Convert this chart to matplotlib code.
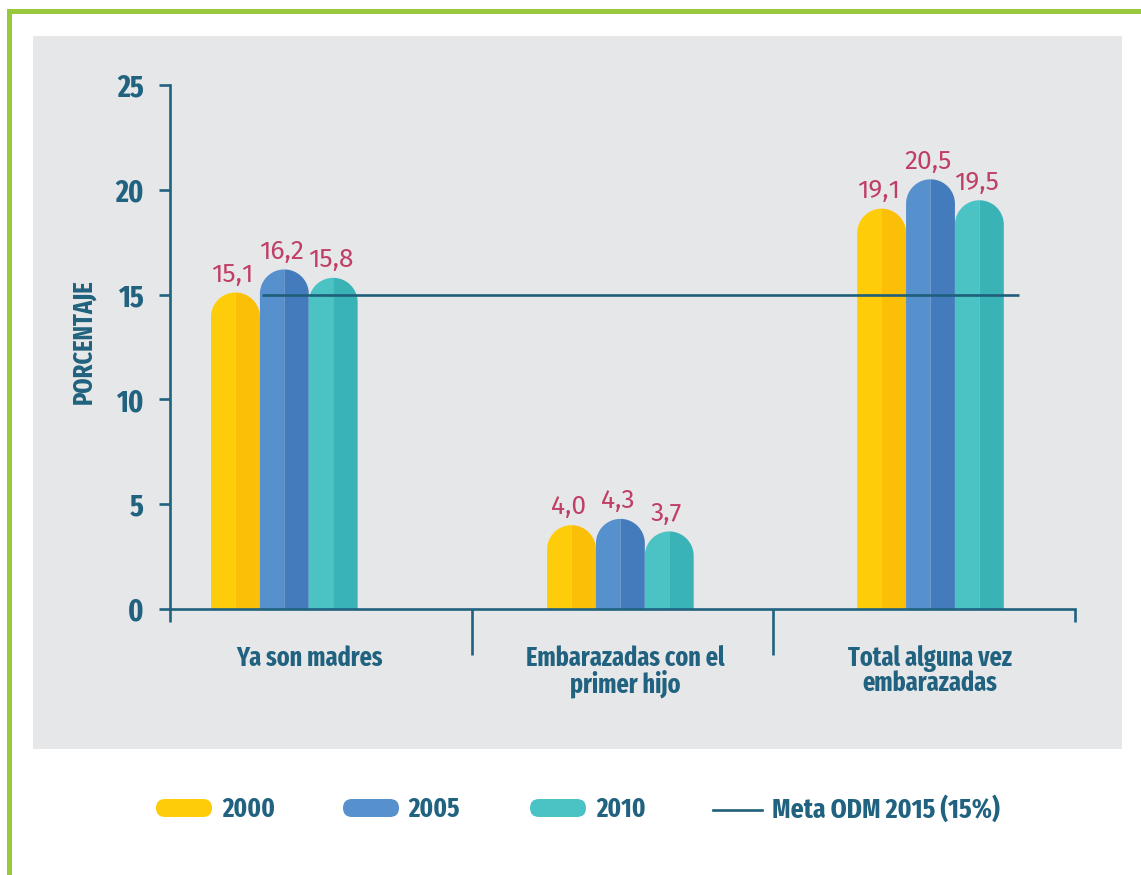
import numpy as np
import matplotlib
matplotlib.use("Agg")
import matplotlib.pyplot as plt
from matplotlib.patches import Polygon, Rectangle, FancyBboxPatch
from matplotlib.lines import Line2D
from matplotlib.transforms import IdentityTransform

# ---------------- data ----------------
categories = ["Ya son madres", "Embarazadas con el\nprimer hijo", "Total alguna vez\nembarazadas"]
years = ["2000", "2005", "2010"]
values_2000 = [15.1, 4.0, 19.1]
values_2005 = [16.2, 4.3, 20.5]
values_2010 = [15.8, 3.7, 19.5]
meta_value = 15
meta_label = "Meta ODM 2015 (15%)"
yticks = [0, 5, 10, 15, 20, 25]
ylabel = "PORCENTAJE"

# ---------------- style ----------------
plt.rcParams['font.family'] = ['Fira Sans Extra Condensed', 'Fira Sans Condensed', 'DejaVu Sans']
VALUE_FONT = ['Fira Sans', 'DejaVu Sans']
W, H = 1141, 875
DARK = '#20627F'
VALC = '#BF3F66'
GRAY = '#E6E7E8'
GREEN = '#98C93D'
light = ['#FECC09', '#5690CD', '#4BC3C5']
dark = ['#FCBF07', '#437BBD', '#39B3B5']

fig = plt.figure(figsize=(W / 100, H / 100), dpi=100)
fig.patch.set_facecolor('white')

def fx(x):
    return x / W

def fy(y):
    return 1 - y / H

# background panel and green frame
fig.add_artist(Rectangle((fx(33), fy(749)), fx(1122) - fx(33), fy(36) - fy(749),
                         transform=fig.transFigure, facecolor=GRAY, edgecolor='none', zorder=-10))
fig.add_artist(Rectangle((fx(7), fy(14)), 1 - fx(7), fy(9) - fy(14),
                         transform=fig.transFigure, facecolor=GREEN, edgecolor='none', zorder=-9))
fig.add_artist(Rectangle((fx(7), 0), fx(12) - fx(7), fy(9),
                         transform=fig.transFigure, facecolor=GREEN, edgecolor='none', zorder=-9))

# axes
L, R, T, B = 170, 1075, 85, 609
ax = fig.add_axes([fx(L), fy(B), fx(R) - fx(L), fy(T) - fy(B)])
ax.patch.set_alpha(0)
ax.set_xlim(0, 3)
ax.set_ylim(0, 25)
for s in ['top', 'right']:
    ax.spines[s].set_visible(False)
for s in ['left', 'bottom']:
    ax.spines[s].set_color(DARK)
    ax.spines[s].set_linewidth(1.9)

ax.set_yticks(yticks)
ax.set_yticklabels([str(t) for t in yticks])
ax.tick_params(axis='y', length=8, width=1.9, color=DARK, pad=11,
               labelsize=22, labelcolor=DARK)
for lab in ax.get_yticklabels():
    lab.set_fontweight('bold')
ax.set_xticks([1, 2])
ax.set_xticklabels([])
ax.set_xticks([0, 3], minor=True)
ax.tick_params(axis='x', which='major', length=33, width=1.9, color=DARK)
ax.tick_params(axis='x', which='minor', length=9, width=1.9, color=DARK)

# bars
centers = [0.379, 1.493, 2.521]
bw = 0.162
px_x = (R - L) / 3.0
px_y = (B - T) / 25.0
rx = bw / 2
ry = rx * px_x / px_y
t = np.linspace(0, np.pi / 2, 30)

def draw_bar(xc, v, cl, cd):
    x0, x1 = xc - rx, xc + rx
    base = v - ry
    arc_l = [(xc - rx * np.cos(a), base + ry * np.sin(a)) for a in t]
    ax.add_patch(Polygon([(x0, 0)] + arc_l + [(xc, 0)], closed=True,
                         facecolor=cl, edgecolor='none', zorder=2))
    arc_r = [(xc + rx * np.sin(a), base + ry * np.cos(a)) for a in t]
    ax.add_patch(Polygon([(xc, 0), (xc, v)] + arc_r + [(x1, 0)], closed=True,
                         facecolor=cd, edgecolor='none', zorder=2))

series = [values_2000, values_2005, values_2010]
for si, vals in enumerate(series):
    for ci, v in enumerate(vals):
        xc = centers[ci] + (si - 1) * bw
        draw_bar(xc, v, light[si], dark[si])
        ax.annotate(f"{v:.1f}".replace('.', ','), (xc, v), xytext=(-2, 4),
                    textcoords='offset points', ha='center', va='bottom',
                    fontsize=19, fontweight='normal', color=VALC, family=VALUE_FONT)

# meta line
ax.plot([0.305, 2.815], [meta_value, meta_value], color='#1F5F7A', lw=1.9,
        zorder=3, solid_capstyle='butt')

# category labels
label_x = [0.462, 1.51, 2.52]
for x, c in zip(label_x, categories):
    ax.text(x, (B - 645) / (B - T), c, transform=ax.get_xaxis_transform(),
            ha='center', va='top', fontsize=19, fontweight='bold', color=DARK,
            linespacing=0.92)

# y label
fig.text(fx(84), fy(342), ylabel, rotation=90, ha='center', va='center',
         fontsize=19, fontweight='bold', color=DARK)

# legend (drawn in pixel coordinates)
ident = IdentityTransform()
pill_x = [156, 343, 530]
text_x = [222, 408, 596]
for i in range(3):
    fig.add_artist(FancyBboxPatch((pill_x[i], H - 817), 56, 18,
                                  boxstyle="round,pad=0,rounding_size=9",
                                  transform=ident, facecolor=light[i], edgecolor='none'))
    fig.text(fx(text_x[i]), fy(809), years[i], ha='left', va='center',
             fontsize=19.5, fontweight='bold', color=DARK)
fig.add_artist(Line2D([713, 762], [H - 810, H - 810], transform=ident,
                      color='#1F5F7A', lw=1.9))
fig.text(fx(772), fy(809), meta_label, ha='left', va='center',
         fontsize=20, fontweight='bold', color=DARK)

fig.savefig('out.png', dpi=100, facecolor='white')
